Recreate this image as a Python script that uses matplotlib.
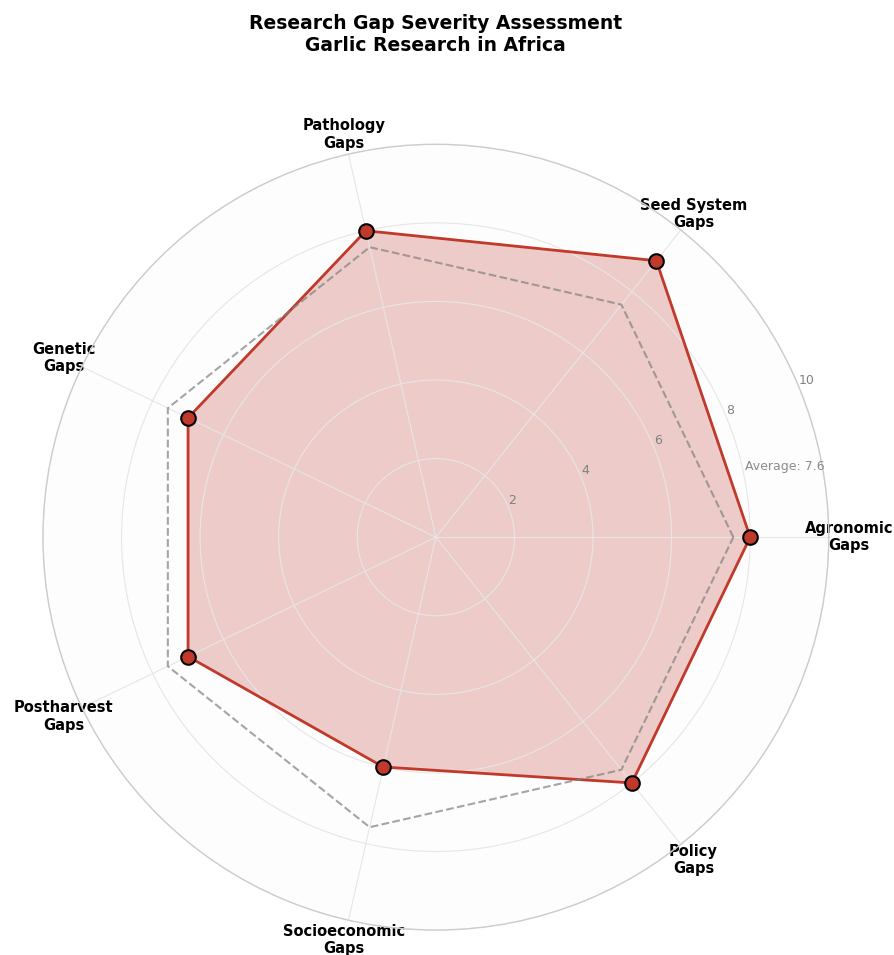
import numpy as np
import matplotlib.pyplot as plt

# dados do gráfico
categorias = ['Agronomic\nGaps', 'Seed System\nGaps', 'Pathology\nGaps', 'Genetic\nGaps',
              'Postharvest\nGaps', 'Socioeconomic\nGaps', 'Policy\nGaps']
severidade = [8, 9, 8, 7, 7, 6, 8]
rticks = [2, 4, 6, 8, 10]

n = len(categorias)
angulos = np.linspace(0, 2 * np.pi, n, endpoint=False).tolist()
media = np.mean(severidade)

valores = severidade + severidade[:1]
ang = angulos + angulos[:1]
med = [media] * (n + 1)

fig = plt.figure(figsize=(8.95, 9.55), dpi=100)
ax = fig.add_axes([0.048, 0.026, 0.878, 0.823], projection='polar')
ax.set_facecolor('#fdfdfd')
ax.set_axisbelow('line')  # grade por cima do preenchimento

ax.fill(ang, valores, color='#c0392b', alpha=0.25, zorder=1)
ax.plot(ang, valores, color='#c0392b', linewidth=2, zorder=3)
ax.scatter(angulos, severidade, s=110, color='#c0392b', edgecolor='black',
           linewidth=1.5, zorder=4)
ax.plot(ang, med, color='gray', linestyle='--', linewidth=1.5, alpha=0.7, zorder=3)
ax.text(angulos[0] + 0.2, media + 1.5, f'Average: {media:.1f}', color='gray',
        fontsize=9, ha='center', va='center', alpha=0.9)

ax.set_ylim(0, 10)
ax.set_yticks(rticks)
ax.set_yticklabels([str(t) for t in rticks], color='gray', fontsize=9)
ax.set_rlabel_position(22.5)
ax.set_xticks(angulos)
ax.set_xticklabels(categorias, fontsize=10.5, fontweight='bold')
ax.tick_params(axis='x', pad=4)
ax.grid(color='#e6e6e6', linewidth=0.8)
ax.spines['polar'].set_color('#cccccc')
ax.spines['polar'].set_linewidth(1)

fig.suptitle('Research Gap Severity Assessment\nGarlic Research in Africa',
             fontsize=13.5, fontweight='bold', x=0.487, y=0.985)

plt.savefig('out.png', dpi=100)
